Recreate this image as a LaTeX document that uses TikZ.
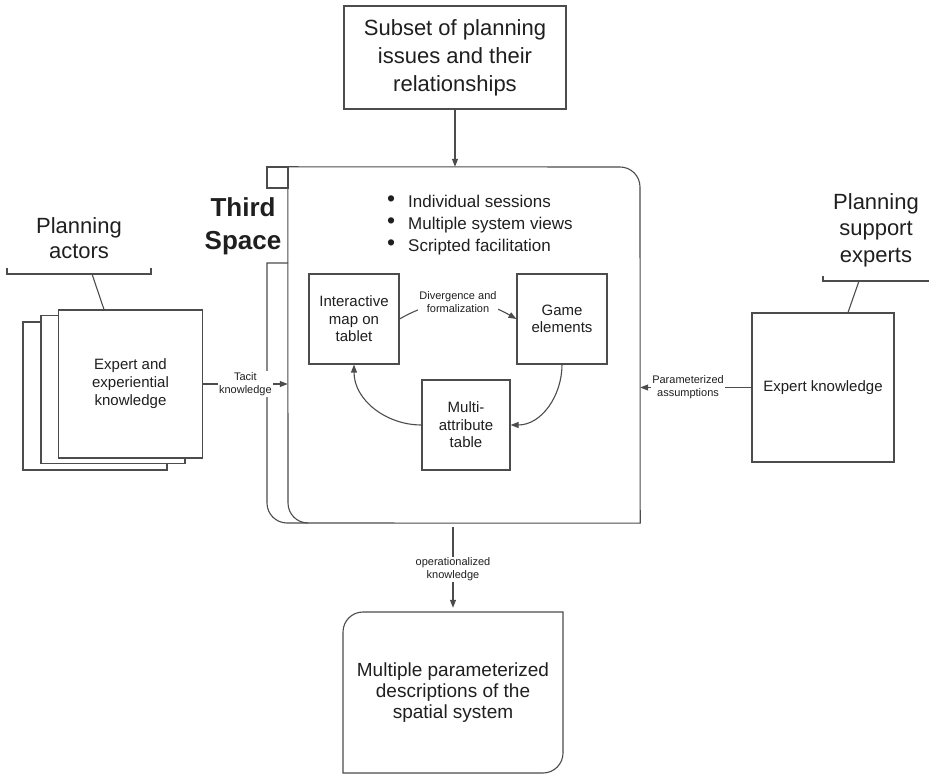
\documentclass[tikz,border=0pt]{standalone}
\usepackage{fontspec}
\setmainfont{Liberation Sans}
\usetikzlibrary{arrows.meta}
\definecolor{lc}{gray}{0.3}
\definecolor{tc}{gray}{0.12}
\tikzset{
  ln/.style={draw=lc, line width=1.1pt},
  box/.style={ln, fill=white, inner sep=0pt, align=center, text=tc},
  arr/.style={ln, -{Triangle[length=8pt,width=6pt]}},
  lbl/.style={fill=white, inner sep=1pt, align=center, text=tc, font=\fontsize{11}{13}\selectfont},
  bigtxt/.style={align=center, text=tc, inner sep=0pt},
}
\newcommand{\bigbul}{\raisebox{0.5pt}{\scalebox{1.35}{•}}}
\begin{document}
\begin{tikzpicture}[x=1pt,y=1pt]
\useasboundingbox (0,0) rectangle (929,774);

% top box
\node[box, minimum width=222pt, minimum height=103pt, font=\fontsize{22}{28}\selectfont] (sub) at (455,716.5) {Subset of planning\\issues and their\\relationships};

% main third space container
\node[inner sep=0pt, minimum width=352pt, minimum height=356pt] (ts) at (464,429) {};
\draw[ln] (267,586) rectangle (288,607);
\draw[ln] (288,511) -- (267,511) -- (267,271) arc[start angle=180,end angle=270,radius=20] -- (308,251);
\draw[ln] (ts.north west) -- (620,607) arc[start angle=90,end angle=0,radius=20] -- (ts.south east) -- (308,251) arc[start angle=270,end angle=180,radius=20] -- cycle;

\node[bigtxt, font=\bfseries\fontsize{26}{33}\selectfont] (third) at (243,548) {Third\\Space};

\node[anchor=west, inner sep=0pt, text=tc, font=\fontsize{17}{22}\selectfont] (bul) at (387,549)
  {\begin{tabular}{@{}l@{\hspace{13pt}}l@{}}\bigbul&Individual sessions\\ \bigbul&Multiple system views\\ \bigbul&Scripted facilitation\end{tabular}};

% inner boxes
\node[box, minimum width=90pt, minimum height=90pt, font=\fontsize{15}{17.5}\selectfont] (map) at (354,455) {Interactive\\map on\\tablet};
\node[box, minimum width=90pt, minimum height=90pt, font=\fontsize{15}{17.5}\selectfont] (game) at (562,455) {Game\\elements};
\node[box, minimum width=88pt, minimum height=90pt, font=\fontsize{15}{17.5}\selectfont] (multi) at (466,349) {Multi-\\attribute\\table};

\draw[arr] (map.east) to[bend left=30] node[lbl] (div) {Divergence and\\formalization} (game.west);
\draw[arr] (multi.west) to[out=180,in=-90] (map.south);
\draw[arr] (game.south) to[out=-90,in=0] (multi.east);

% planning actors
\node[box, minimum width=144pt, minimum height=148pt] (exp3) at (95,378) {};
\node[box, minimum width=144pt, minimum height=148pt] (exp2) at (113,384.5) {};
\node[box, minimum width=144pt, minimum height=148pt, font=\fontsize{15}{18}\selectfont] (exp) at (130.5,390) {Expert and\\experiential\\knowledge};
\node[bigtxt, font=\fontsize{22}{25}\selectfont] (pa) at (79,536) {Planning\\actors};
\draw[ln] (7,506) -- (7,500) -- (151,500) -- (151,506);
\coordinate (paB) at (92,500);
\draw[ln] (paB) -- ([xshift=-26.5pt]exp.north);

\draw[arr] (exp.east) -- node[lbl] (tacit) {Tacit\\knowledge} (exp.east -| ts.west);

% planning support experts
\node[box, minimum width=142pt, minimum height=149pt, font=\fontsize{15}{18}\selectfont] (ek) at (823,386.5) {Expert knowledge};
\node[bigtxt, font=\fontsize{22}{26.5}\selectfont] (pse) at (876,544) {Planning\\support\\experts};
\draw[ln] (823,498) -- (823,493) -- (929,493);
\coordinate (pseB) at (859,493);
\draw[ln] (pseB) -- ([xshift=25pt]ek.north);

\draw[arr] (ek.west) -- node[lbl, pos=0.57] (param) {Parameterized\\assumptions} (ek.west -| ts.east);

% top arrow
\draw[arr] (sub.south) -- (sub.south |- ts.north);

% bottom box
\node[bigtxt, minimum width=220pt, minimum height=161pt, font=\fontsize{19}{21}\selectfont] (bot) at (453,81.5) {Multiple parameterized\\descriptions of the\\spatial system};
\draw[ln] (343,142) arc[start angle=180,end angle=90,radius=20] -- (563,162) -- (563,21) arc[start angle=0,end angle=-90,radius=20] -- (343,1) -- cycle;

\path (bot.north |- ts.south) ++(0,-4) coordinate (opS);
\draw[arr, shorten >=4pt] (opS) -- node[lbl] (op) {operationalized\\knowledge} (bot.north);
\end{tikzpicture}
\end{document}
